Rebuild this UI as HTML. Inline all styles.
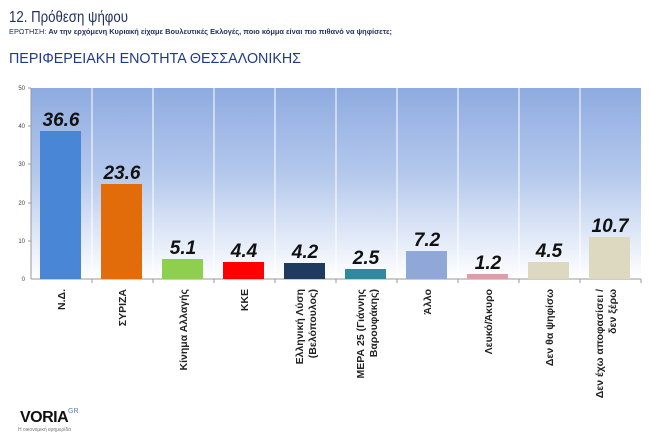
<!DOCTYPE html>
<html><head><meta charset="utf-8"><style>
body{margin:0;background:#fff;width:650px;height:437px;overflow:hidden;font-family:"Liberation Sans","DejaVu Sans",sans-serif}
</style></head><body>
<svg width="650" height="437" xmlns="http://www.w3.org/2000/svg" font-family="Liberation Sans, DejaVu Sans, sans-serif">
<defs><linearGradient id="g" x1="0" y1="0" x2="0" y2="1">
<stop offset="0" stop-color="#8eabe0"/><stop offset="0.45" stop-color="#b4c8ec"/><stop offset="1" stop-color="#ffffff"/></linearGradient></defs>
<text x="9" y="22" font-size="16" fill="#1f2f5e" textLength="119" lengthAdjust="spacingAndGlyphs">12. Πρόθεση ψήφου</text>
<text x="9" y="34" font-size="7" fill="#1f2f5e" textLength="383" lengthAdjust="spacingAndGlyphs">ΕΡΩΤΗΣΗ: <tspan font-weight="bold">Αν την ερχόμενη Κυριακή είχαμε Βουλευτικές Εκλογές, ποιο κόμμα είναι πιο πιθανό να ψηφίσετε;</tspan></text>
<text x="9" y="63" font-size="15" fill="#1f3a8a" textLength="292" lengthAdjust="spacingAndGlyphs">ΠΕΡΙΦΕΡΕΙΑΚΗ ΕΝΟΤΗΤΑ ΘΕΣΣΑΛΟΝΙΚΗΣ</text>
<rect x="31" y="88" width="610" height="191" fill="url(#g)"/>
<g stroke="#fff" stroke-width="1">
<line x1="92" y1="88" x2="92" y2="279"/><line x1="153" y1="88" x2="153" y2="279"/><line x1="214" y1="88" x2="214" y2="279"/><line x1="275" y1="88" x2="275" y2="279"/><line x1="336" y1="88" x2="336" y2="279"/><line x1="397" y1="88" x2="397" y2="279"/><line x1="458" y1="88" x2="458" y2="279"/><line x1="519" y1="88" x2="519" y2="279"/><line x1="580" y1="88" x2="580" y2="279"/></g>
<g stroke="#999" stroke-width="1"><line x1="31" y1="88" x2="31" y2="279"/><line x1="31" y1="279" x2="641" y2="279"/>
<line x1="28" y1="88" x2="31" y2="88"/><line x1="28" y1="126" x2="31" y2="126"/><line x1="28" y1="164" x2="31" y2="164"/><line x1="28" y1="203" x2="31" y2="203"/><line x1="28" y1="241" x2="31" y2="241"/>
<line x1="92" y1="279" x2="92" y2="283"/><line x1="153" y1="279" x2="153" y2="283"/><line x1="214" y1="279" x2="214" y2="283"/><line x1="275" y1="279" x2="275" y2="283"/><line x1="336" y1="279" x2="336" y2="283"/><line x1="397" y1="279" x2="397" y2="283"/><line x1="458" y1="279" x2="458" y2="283"/><line x1="519" y1="279" x2="519" y2="283"/><line x1="580" y1="279" x2="580" y2="283"/><line x1="641" y1="279" x2="641" y2="283"/></g>
<g font-size="6" fill="#444" text-anchor="end"><text x="25" y="90">50</text><text x="25" y="128">40</text><text x="25" y="166">30</text><text x="25" y="205">20</text><text x="25" y="243">10</text><text x="25" y="281">0</text></g>
<g>
<rect x="40" y="131" width="41" height="148" fill="#4a86d6"/>
<rect x="101" y="184" width="41" height="95" fill="#e36c0a"/>
<rect x="162" y="259" width="41" height="20" fill="#8ed04e"/>
<rect x="223" y="262" width="41" height="17" fill="#ff0000"/>
<rect x="284" y="263" width="41" height="16" fill="#1f3a5f"/>
<rect x="345" y="269" width="41" height="10" fill="#2e8a9c"/>
<rect x="406" y="251" width="41" height="28" fill="#8fa8d8"/>
<rect x="467" y="274" width="41" height="5" fill="#d8a0a8"/>
<rect x="528" y="262" width="41" height="17" fill="#ddd8c0"/>
<rect x="589" y="237" width="41" height="42" fill="#ddd8c0"/>
</g>
<g font-size="19" font-weight="bold" font-style="italic" fill="#111" text-anchor="middle">
<text x="61" y="126">36.6</text><text x="122" y="179">23.6</text><text x="183" y="254">5.1</text><text x="244" y="257">4.4</text><text x="305" y="258">4.2</text><text x="366" y="264">2.5</text><text x="427" y="246">7.2</text><text x="488" y="269">1.2</text><text x="549" y="257">4.5</text><text x="610" y="232">10.7</text>
</g>
<g font-size="10.5" font-weight="bold" fill="#222" text-anchor="end">
<text transform="translate(65,289) rotate(-90)">Ν.Δ.</text>
<text transform="translate(126,289) rotate(-90)">ΣΥΡΙΖΑ</text>
<text transform="translate(187,289) rotate(-90)">Κίνημα Αλλαγής</text>
<text transform="translate(248,289) rotate(-90)">ΚΚΕ</text>
<text transform="translate(303,289) rotate(-90)">Ελληνική Λύση</text>
<text transform="translate(316,289) rotate(-90)">(Βελόπουλος)</text>
<text transform="translate(364,289) rotate(-90)">ΜΕΡΑ 25 (Γιάννης</text>
<text transform="translate(377,289) rotate(-90)">Βαρουφάκης)</text>
<text transform="translate(431,289) rotate(-90)">Άλλο</text>
<text transform="translate(492,289) rotate(-90)">Λευκό/Άκυρο</text>
<text transform="translate(553,289) rotate(-90)">Δεν θα ψηφίσω</text>
<text transform="translate(603,289) rotate(-90)">Δεν έχω αποφασίσει /</text>
<text transform="translate(616,289) rotate(-90)">δεν ξέρω</text>
</g>
<text x="20" y="422" font-size="16" font-weight="bold" fill="#111" letter-spacing="-0.5">VORIA</text>
<text x="68" y="413" font-size="7" fill="#5b7fc0">GR</text>
<text x="18" y="431" font-size="5" fill="#777">Η οικονομική εφημερίδα</text>
</svg>
</body></html>
